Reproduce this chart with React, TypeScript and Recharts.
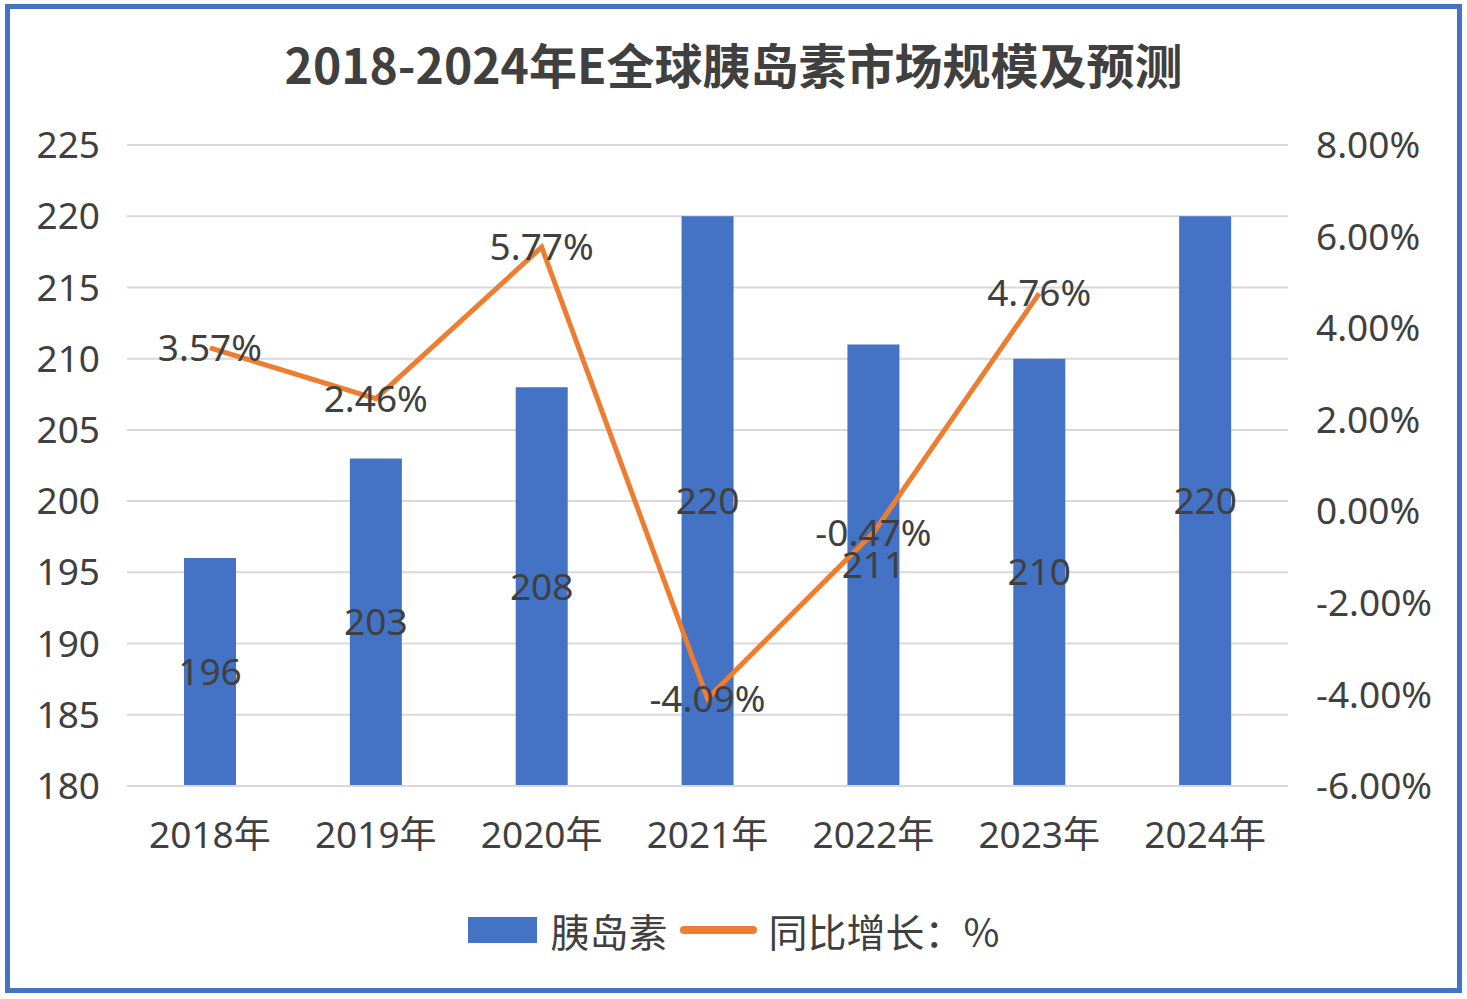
import React from "react";
import {
  ComposedChart,
  Bar,
  Line,
  XAxis,
  YAxis,
  CartesianGrid,
  LabelList,
} from "recharts";

const years = ["2018年", "2019年", "2020年", "2021年", "2022年", "2023年", "2024年"];
const marketSize = [196, 203, 208, 220, 211, 210, 220];
const growth: (number | null)[] = [3.57, 2.46, 5.77, -4.09, -0.47, 4.76, null];
const leftTicks = [180, 185, 190, 195, 200, 205, 210, 215, 220, 225];
const rightTicks = [-6, -4, -2, 0, 2, 4, 6, 8];

const data = years.map((year, i) => ({
  year,
  size: marketSize[i],
  growth: growth[i],
}));

const FONT = '"Noto Sans", "Noto Sans CJK SC", sans-serif';
const TEXT = "#404040";
const BLUE = "#4472C4";
const ORANGE = "#ED7D31";
const FS = 37;

function LegendBox() {
  return (
    <div
      style={{
        position: "absolute",
        top: 896,
        left: 0,
        width: "100%",
        display: "flex",
        justifyContent: "center",
        alignItems: "center",
        fontFamily: '"Noto Sans CJK SC", sans-serif',
        fontSize: 39,
        color: TEXT,
        lineHeight: "50px",
      }}
    >
      <span style={{ width: 69, height: 26, background: BLUE, marginRight: 14 }} />
      <span style={{ marginRight: 12 }}>胰岛素</span>
      <span
        style={{ width: 77, height: 8, borderRadius: 4, background: ORANGE, marginRight: 12 }}
      />
      <span>同比增长：%</span>
    </div>
  );
}

export default function App() {
  return (
    <div
      style={{
        position: "absolute",
        left: 5,
        top: 4,
        width: 1457,
        height: 989,
        border: `5px solid ${BLUE}`,
        boxSizing: "border-box",
        background: "#fff",
      }}
    >
      <div
        style={{
          position: "absolute",
          top: 24,
          left: 0,
          width: "100%",
          textAlign: "center",
          fontFamily: '"Noto Sans CJK SC", sans-serif',
          fontWeight: 700,
          fontSize: 48,
          color: TEXT,
          lineHeight: "60px",
        }}
      >
        2018-2024年E全球胰岛素市场规模及预测
      </div>
      <ComposedChart
        width={1447}
        height={979}
        data={data}
        margin={{ top: 136, right: 0, left: 0, bottom: 142 }}
      >
        <CartesianGrid
          yAxisId="left"
          vertical={false}
          stroke="#D9D9D9"
          strokeWidth={2}
        />
        <XAxis
          dataKey="year"
          height={60}
          tickLine={false}
          axisLine={{ stroke: "#D9D9D9", strokeWidth: 2 }}
          tickMargin={30}
          tick={{ fontSize: FS, fill: TEXT, fontFamily: FONT }}
          interval={0}
        />
        <YAxis
          yAxisId="left"
          width={117}
          domain={[180, 225]}
          ticks={leftTicks}
          axisLine={false}
          tickLine={false}
          tickMargin={21}
          tick={{ fontSize: FS, fill: TEXT, fontFamily: FONT }}
        />
        <YAxis
          yAxisId="right"
          orientation="right"
          width={169}
          domain={[-6, 8]}
          ticks={rightTicks}
          axisLine={false}
          tickLine={false}
          tickMargin={22}
          tickFormatter={(v: number) => `${v.toFixed(2)}%`}
          tick={{ fontSize: FS, fill: TEXT, fontFamily: FONT }}
        />
        <Bar
          yAxisId="left"
          dataKey="size"
          fill={BLUE}
          barSize={52}
          isAnimationActive={false}
        >
          <LabelList
            dataKey="size"
            position="center"
            fill={TEXT}
            fontSize={FS}
            fontFamily={FONT}
          />
        </Bar>
        <Line
          yAxisId="right"
          dataKey="growth"
          stroke={ORANGE}
          strokeWidth={5}
          dot={false}
          activeDot={false}
          connectNulls={false}
          isAnimationActive={false}
        >
          <LabelList
            dataKey="growth"
            position="center"
            fill={TEXT}
            fontSize={FS}
            fontFamily={FONT}
            formatter={(v: any) => (v == null ? "" : `${Number(v).toFixed(2)}%`)}
          />
        </Line>
      </ComposedChart>
      <LegendBox />
    </div>
  );
}
